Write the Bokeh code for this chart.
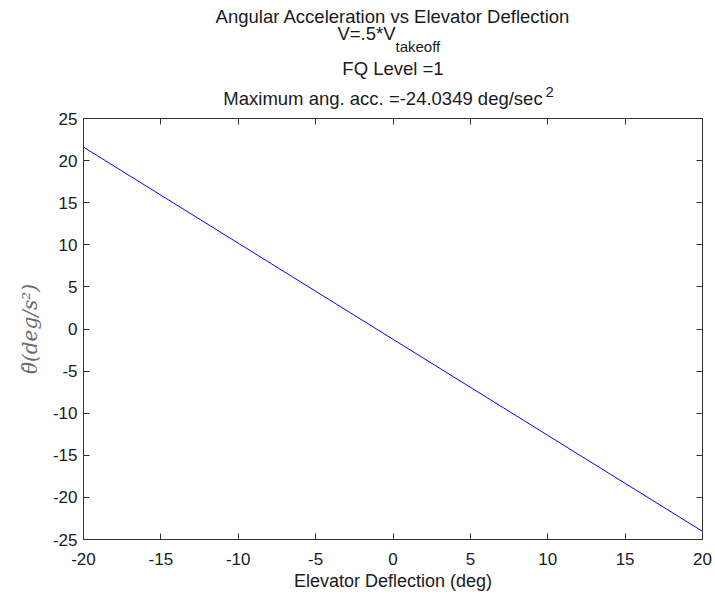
from bokeh.plotting import figure
from bokeh.layouts import column
from bokeh.models import Range1d, LinearAxis, FixedTicker
from bokeh.core.properties import value
from bokeh.embed import file_html
from bokeh.resources import INLINE

# ---- data ----
deflection = [-20, -10, 0, 10, 20]                 # deg
ang_acc = [21.6, 10.19, -1.22, -12.63, -24.0349]   # deg/s^2
x_ticks = [-20, -15, -10, -5, 0, 5, 10, 15, 20]
y_ticks = [-25, -20, -15, -10, -5, 0, 5, 10, 15, 20, 25]
title_line1 = "Angular Acceleration vs Elevator Deflection"
title_line2_main = "V=.5*V"
title_line2_sub = "takeoff"
title_line3 = "FQ Level =1"
title_line4_main = "Maximum ang. acc. =-24.0349 deg/sec"
title_line4_sup = "2"
x_label = "Elevator Deflection (deg)"
y_label = "\u03b8\u0308(deg/s\u00b2)"

FONT = "Liberation Sans"
AXC = "#333333"
TXT = "#1a1a1a"

W = 715
FL, FR = 83, 702      # frame left/right in canvas px
FT, FB = 118, 539     # frame top/bottom in canvas px
TOP_H = 109           # title strip height (px)
MAIN_H = 599 - TOP_H
SHIFT = 6             # baseline correction of text glyphs (px)

# ---------- title strip ----------
t = figure(width=W, height=TOP_H, output_backend="svg", toolbar_location=None,
           x_range=Range1d(FL, FR), y_range=Range1d(TOP_H, 0),
           min_border_left=FL, min_border_right=W - FR,
           min_border_top=0, min_border_bottom=0,
           x_axis_location=None, y_axis_location=None)
t.outline_line_color = None
t.xgrid.visible = False
t.ygrid.visible = False
t.background_fill_color = "white"
t.border_fill_color = "white"

def ttext(txt, x, y, size="18.5px", align="center", shift=SHIFT):
    t.text(x=[x], y=[y - shift], text=[txt], text_font=value(FONT), text_font_size=size,
           text_color=TXT, text_align=align, text_baseline="alphabetic")

ttext(title_line1, 392.5, 22)
ttext(title_line2_main, 395, 39, align="right")
ttext(title_line2_sub, 395, 51, size="15px", align="left", shift=5)
ttext(title_line3, 392.5, 74)
ttext(title_line4_main, 382.5, 104)
ttext(title_line4_sup, 545, 96, size="15px", align="left", shift=5)

# ---------- main plot ----------
p = figure(width=W, height=MAIN_H, output_backend="svg", toolbar_location=None,
           x_range=Range1d(-20, 20), y_range=Range1d(-25, 25),
           min_border_left=FL, min_border_right=W - FR,
           min_border_top=FT - TOP_H, min_border_bottom=599 - FB)
p.background_fill_color = "white"
p.border_fill_color = "white"
p.outline_line_color = AXC
p.xgrid.visible = False
p.ygrid.visible = False

p.line(deflection, ang_acc, line_color="#0000ff", line_width=1)

def style_axis(ax, ticks, show_labels=True):
    ax.ticker = FixedTicker(ticks=ticks)
    ax.axis_line_color = AXC
    ax.major_tick_line_color = AXC
    ax.major_tick_in = 6
    ax.major_tick_out = 0
    ax.minor_tick_line_color = None
    if show_labels:
        ax.major_label_text_font = FONT
        ax.major_label_text_font_size = "17px"
        ax.major_label_text_color = TXT
        ax.major_label_overrides = {tk: str(tk) for tk in ticks}
    else:
        ax.major_label_text_color = None
        ax.major_label_text_font_size = "1px"
        ax.major_label_standoff = 0

xa = p.xaxis[0]
style_axis(xa, x_ticks)
xa.major_label_standoff = 13
xa.axis_label = x_label
xa.axis_label_text_font = FONT
xa.axis_label_text_font_size = "18px"
xa.axis_label_text_font_style = "normal"
xa.axis_label_text_color = TXT
xa.axis_label_standoff = 3

ya = p.yaxis[0]
style_axis(ya, y_ticks)
ya.major_label_standoff = 6
ya.axis_label = y_label
ya.axis_label_text_font = "DejaVu Serif"
ya.axis_label_text_font_size = "20px"
ya.axis_label_text_font_style = "italic"
ya.axis_label_text_color = "#6a6a6a"
ya.axis_label_standoff = 8

top_ax = LinearAxis()
style_axis(top_ax, x_ticks, show_labels=False)
p.add_layout(top_ax, "above")
right_ax = LinearAxis()
style_axis(right_ax, y_ticks, show_labels=False)
p.add_layout(right_ax, "right")

layout = column(t, p, spacing=0)
open("out.html", "w").write(file_html(layout, INLINE))
